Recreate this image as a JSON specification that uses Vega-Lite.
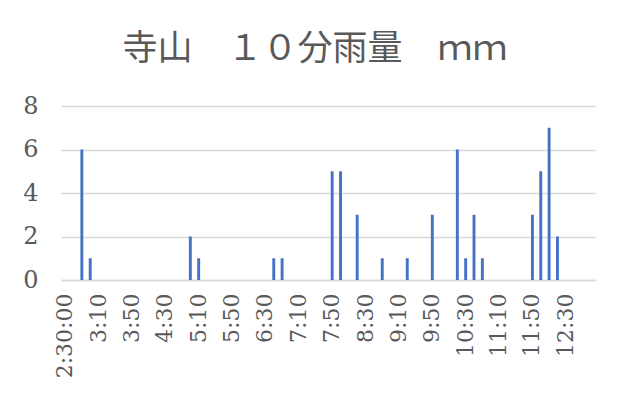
{
  "$schema": "https://vega.github.io/schema/vega-lite/v6.json",
  "width": 534,
  "height": 174,
  "autosize": {"type": "none"},
  "padding": {"left": 61, "top": 106, "right": 23, "bottom": 114},
  "background": "white",
  "title": {
    "text": "寺山　１０分雨量　ｍｍ",
    "font": "Noto Sans CJK JP",
    "fontSize": 35,
    "fontWeight": "normal",
    "color": "#595959",
    "anchor": "middle",
    "frame": "group",
    "baseline": "middle",
    "offset": 10,
    "dx": -13
  },
  "data": {
    "values": [
      {"time": "2:30", "rain": 0}, {"time": "2:40", "rain": 0}, {"time": "2:50", "rain": 6}, {"time": "3:00", "rain": 1},
      {"time": "3:10", "rain": 0}, {"time": "3:20", "rain": 0}, {"time": "3:30", "rain": 0}, {"time": "3:40", "rain": 0},
      {"time": "3:50", "rain": 0}, {"time": "4:00", "rain": 0}, {"time": "4:10", "rain": 0}, {"time": "4:20", "rain": 0},
      {"time": "4:30", "rain": 0}, {"time": "4:40", "rain": 0}, {"time": "4:50", "rain": 0}, {"time": "5:00", "rain": 2},
      {"time": "5:10", "rain": 1}, {"time": "5:20", "rain": 0}, {"time": "5:30", "rain": 0}, {"time": "5:40", "rain": 0},
      {"time": "5:50", "rain": 0}, {"time": "6:00", "rain": 0}, {"time": "6:10", "rain": 0}, {"time": "6:20", "rain": 0},
      {"time": "6:30", "rain": 0}, {"time": "6:40", "rain": 1}, {"time": "6:50", "rain": 1}, {"time": "7:00", "rain": 0},
      {"time": "7:10", "rain": 0}, {"time": "7:20", "rain": 0}, {"time": "7:30", "rain": 0}, {"time": "7:40", "rain": 0},
      {"time": "7:50", "rain": 5}, {"time": "8:00", "rain": 5}, {"time": "8:10", "rain": 0}, {"time": "8:20", "rain": 3},
      {"time": "8:30", "rain": 0}, {"time": "8:40", "rain": 0}, {"time": "8:50", "rain": 1}, {"time": "9:00", "rain": 0},
      {"time": "9:10", "rain": 0}, {"time": "9:20", "rain": 1}, {"time": "9:30", "rain": 0}, {"time": "9:40", "rain": 0},
      {"time": "9:50", "rain": 3}, {"time": "10:00", "rain": 0}, {"time": "10:10", "rain": 0}, {"time": "10:20", "rain": 6},
      {"time": "10:30", "rain": 1}, {"time": "10:40", "rain": 3}, {"time": "10:50", "rain": 1}, {"time": "11:00", "rain": 0},
      {"time": "11:10", "rain": 0}, {"time": "11:20", "rain": 0}, {"time": "11:30", "rain": 0}, {"time": "11:40", "rain": 0},
      {"time": "11:50", "rain": 3}, {"time": "12:00", "rain": 5}, {"time": "12:10", "rain": 7}, {"time": "12:20", "rain": 2},
      {"time": "12:30", "rain": 0}, {"time": "12:40", "rain": 0}, {"time": "12:50", "rain": 0}, {"time": "13:00", "rain": 0}
    ]
  },
  "mark": {"type": "bar", "color": "#4472C4"},
  "encoding": {
    "x": {
      "field": "time",
      "type": "ordinal",
      "sort": null,
      "scale": {"paddingInner": 0.65, "paddingOuter": 0.325},
      "axis": {
        "title": null,
        "values": ["2:30", "3:10", "3:50", "4:30", "5:10", "5:50", "6:30", "7:10", "7:50", "8:30", "9:10", "9:50", "10:30", "11:10", "11:50", "12:30"],
        "labelExpr": "datum.value == '2:30' ? '2:30:00' : datum.value",
        "labelAngle": -90,
        "labelFont": "DejaVu Serif",
        "labelFontSize": 22,
        "labelColor": "#595959",
        "labelPadding": 13,
        "ticks": false,
        "domainColor": "#d9d9d9",
        "domainWidth": 1.5,
        "grid": false
      }
    },
    "y": {
      "field": "rain",
      "type": "quantitative",
      "scale": {"domain": [0, 8], "nice": false},
      "axis": {
        "title": null,
        "values": [0, 2, 4, 6, 8],
        "labelFont": "DejaVu Serif",
        "labelFontSize": 24,
        "labelColor": "#595959",
        "labelPadding": 23,
        "ticks": false,
        "domain": false,
        "gridColor": "#d9d9d9",
        "gridWidth": 1.5
      }
    }
  },
  "config": {"view": {"stroke": null}}
}
